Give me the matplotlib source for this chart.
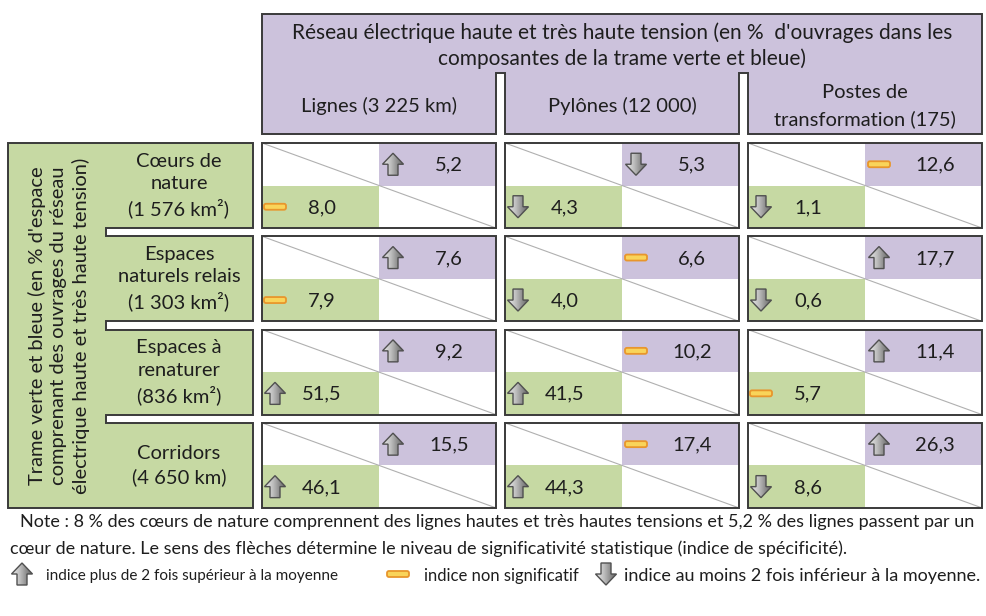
"""Tableau : réseau électrique HT/THT dans la trame verte et bleue."""
import matplotlib
matplotlib.use("Agg")
import matplotlib.pyplot as plt
import numpy as np
from matplotlib.patches import Polygon, Rectangle, FancyBboxPatch

FONT = ["Lato", "DejaVu Sans"]

row_labels = ["Cœurs de\nnature\n(1 576 km²)",
              "Espaces\nnaturels relais\n(1 303 km²)",
              "Espaces à\nrenaturer\n(836 km²)",
              "Corridors\n(4 650 km)"]
col_labels = ["Lignes (3 225 km)", "Pylônes (12 000)",
              "Postes de\ntransformation (175)"]
# % d'ouvrages situés dans la composante (case violette)
share_ouvrages = [[5.2, 5.3, 12.6],
                  [7.6, 6.6, 17.7],
                  [9.2, 10.2, 11.4],
                  [15.5, 17.4, 26.3]]
trend_ouvrages = [["up", "down", "flat"],
                  ["up", "flat", "up"],
                  ["up", "flat", "up"],
                  ["up", "flat", "up"]]
# % d'espace comprenant des ouvrages (case verte)
share_espace = [[8.0, 4.3, 1.1],
                [7.9, 4.0, 0.6],
                [51.5, 41.5, 5.7],
                [46.1, 44.3, 8.6]]
trend_espace = [["flat", "down", "down"],
                ["flat", "down", "down"],
                ["up", "up", "flat"],
                ["up", "up", "down"]]

header_title = ("Réseau électrique haute et très haute tension (en %  d'ouvrages dans les\n"
                "composantes de la trame verte et bleue)")
side_title = ("Trame verte et bleue (en % d'espace\n"
              "comprenant des ouvrages du réseau\n"
              "électrique haute et très haute tension)")
note_lines = ["Note : 8 % des cœurs de nature comprennent des lignes hautes et très hautes "
              "tensions et 5,2 % des lignes passent par un",
              "cœur de nature. Le sens des flèches détermine le niveau de significativité "
              "statistique (indice de spécificité)."]
legend_items = [("up", "indice plus de 2 fois supérieur à la moyenne"),
                ("flat", "indice non significatif"),
                ("down", "indice au moins 2 fois inférieur à la moyenne.")]

PURPLE = "#ccc2dc"
GREEN = "#c6d9a3"
EDGE = "#3a3a3a"
TXT = "#1e1e1e"

# layout (pixels, y downwards)
X0, COL_STEP, COL_W = 262, 243, 234
Y0, ROW_STEP, ROW_H = 143, 93.3, 85
HEAD_TOP, HEAD_BOT, NOTCH_TOP = 14, 134, 73
LEFT_X0, LEFT_X1, LEFT_NOTCH = 8, 253, 106

fig = plt.figure(figsize=(9.87, 6.16), dpi=100)
ax = fig.add_axes([0, 0, 1, 1])
ax.axis("off")

GRAD = np.linspace(0, 1, 32).reshape(1, -1)


def sign(kind, cx, cy, s=1.0):
    if kind == "flat":
        ax.add_patch(FancyBboxPatch((cx - 11 * s, cy - 3 * s), 22 * s, 6 * s,
                                    boxstyle="round,pad=0,rounding_size=2",
                                    fc="#f9d45a", ec="#e8962c", lw=1.3, zorder=5))
        return
    d = -1 if kind == "up" else 1
    pts = [(0, 11 * d), (10.5, 0), (5, 0), (5, -11 * d), (-5, -11 * d),
           (-5, 0), (-10.5, 0)]
    poly = Polygon([(cx + px * s, cy + py * s) for px, py in pts],
                   closed=True, fc="none", ec="#505050", lw=1.0, zorder=6)
    ax.add_patch(poly)
    im = ax.imshow(GRAD, cmap="Greys", vmin=-0.3, vmax=1.6, aspect="auto",
                   extent=(cx - 11 * s, cx + 11 * s, cy + 11 * s, cy - 11 * s),
                   zorder=5, interpolation="bilinear")
    im.set_clip_path(poly)


def fmt(v):
    return f"{v:.1f}".replace(".", ",")


# header block with notches between the columns
ncol = len(col_labels)
x_right = X0 + (ncol - 1) * COL_STEP + COL_W
pts = [(X0, HEAD_TOP), (x_right, HEAD_TOP), (x_right, HEAD_BOT)]
for i in range(ncol - 1, 0, -1):
    left = X0 + i * COL_STEP
    right = X0 + (i - 1) * COL_STEP + COL_W
    pts += [(left, HEAD_BOT), (left, NOTCH_TOP), (right, NOTCH_TOP), (right, HEAD_BOT)]
pts += [(X0, HEAD_BOT)]
ax.add_patch(Polygon(pts, closed=True, fc=PURPLE, ec=EDGE, lw=1.4))
ax.text((X0 + x_right) / 2, 46, header_title, ha="center", va="center",
        fontsize=15, color=TXT, family=FONT, linespacing=1.32)
for i, lab in enumerate(col_labels):
    ax.text(X0 + i * COL_STEP + COL_W / 2, 106, lab, ha="center", va="center",
            fontsize=14.5, color=TXT, family=FONT, linespacing=1.6)

# side block with notches between the rows
nrow = len(row_labels)
y_bottom = Y0 + (nrow - 1) * ROW_STEP + ROW_H
pts = [(LEFT_X0, Y0), (LEFT_X1, Y0)]
for j in range(1, nrow):
    top = Y0 + (j - 1) * ROW_STEP + ROW_H
    bot = Y0 + j * ROW_STEP
    pts += [(LEFT_X1, top), (LEFT_NOTCH, top), (LEFT_NOTCH, bot), (LEFT_X1, bot)]
pts += [(LEFT_X1, y_bottom), (LEFT_X0, y_bottom)]
ax.add_patch(Polygon(pts, closed=True, fc=GREEN, ec=EDGE, lw=1.4))
ax.text(59, (Y0 + y_bottom) / 2, side_title, ha="center", va="center",
        rotation=90, fontsize=14.5, color=TXT, family=FONT, linespacing=1.32)
for j, lab in enumerate(row_labels):
    ax.text(179, Y0 + j * ROW_STEP + ROW_H / 2, lab, ha="center", va="center",
            fontsize=14.5, color=TXT, family=FONT, linespacing=1.38)

# cells
for j in range(nrow):
    y = Y0 + j * ROW_STEP
    for i in range(ncol):
        x = X0 + i * COL_STEP
        hw, hh = COL_W / 2, ROW_H / 2
        ax.add_patch(Rectangle((x, y), COL_W, ROW_H, fc="white", ec="none", zorder=1))
        ax.add_patch(Rectangle((x + hw, y), hw, hh, fc=PURPLE, ec="none", zorder=2))
        ax.add_patch(Rectangle((x, y + hh), hw, hh, fc=GREEN, ec="none", zorder=2))
        ax.plot([x, x + COL_W], [y, y + ROW_H], color="#b0b0b0", lw=0.8, zorder=3)
        ax.add_patch(Rectangle((x, y), COL_W, ROW_H, fc="none", ec=EDGE, lw=1.4, zorder=7))
        # top right: share of ouvrages
        sign(trend_ouvrages[j][i], x + hw + 14, y + hh / 2)
        ax.text(x + hw + 70, y + hh / 2 + 1, fmt(share_ouvrages[j][i]), ha="center",
                va="center", fontsize=14.5, color=TXT, family=FONT, zorder=8)
        # bottom left: share of espace
        sign(trend_espace[j][i], x + 13, y + hh + hh / 2)
        ax.text(x + 60, y + hh + hh / 2 + 1, fmt(share_espace[j][i]), ha="center",
                va="center", fontsize=14.5, color=TXT, family=FONT, zorder=8)

# note and legend
ax.text(20, 522, note_lines[0], ha="left", va="center", fontsize=13, color=TXT,
        family=FONT)
ax.text(10, 549, note_lines[1], ha="left", va="center", fontsize=13, color=TXT,
        family=FONT)
legend_pos = [(22, 46, 11), (398, 424, 12), (606, 624, 13)]
for (kind, lab), (sx, tx, fs) in zip(legend_items, legend_pos):
    sign(kind, sx, 574)
    ax.text(tx, 576, lab, ha="left", va="center", fontsize=fs, color=TXT, family=FONT)

ax.set_xlim(0, 987)
ax.set_ylim(616, 0)
fig.savefig("out.png", dpi=100, facecolor="white")
